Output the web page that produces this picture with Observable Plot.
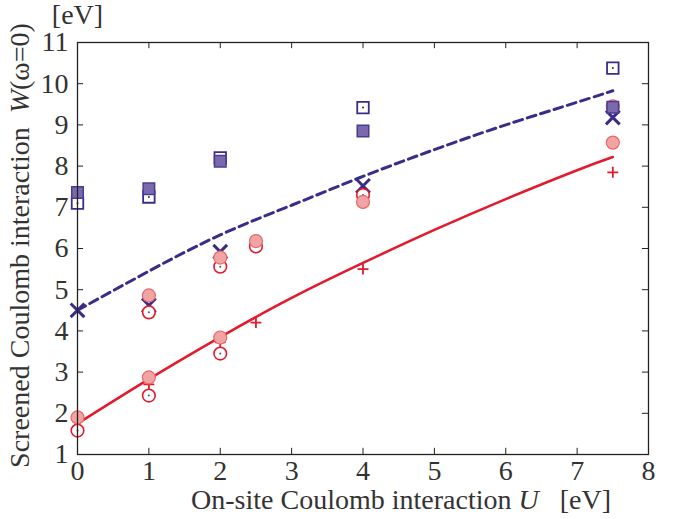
<!DOCTYPE html>
<html>
<head>
<meta charset="utf-8">
<script src="https://cdn.jsdelivr.net/npm/d3@7"></script>
<script src="https://cdn.jsdelivr.net/npm/@observablehq/plot@0.6"></script>
<style>
  html, body { margin: 0; padding: 0; background: #fff; }
</style>
</head>
<body>
<div id="chart"></div>
<script>
// ---- tick labels ----
const xTicks = [0, 1, 2, 3, 4, 5, 6, 7, 8];
const yTicks = [1, 2, 3, 4, 5, 6, 7, 8, 9, 10, 11];

// ---- fitted curves ----
const fitU = [0, 1, 2, 3, 4, 5, 6, 7, 7.5];
const dashedW = [4.5, 5.45, 6.33, 7.05, 7.75, 8.4, 9.0, 9.55, 9.83];
const solidW = [1.75, 2.83, 3.85, 4.8, 5.65, 6.45, 7.2, 7.9, 8.22];

// ---- blue crosses ----
const crossU = [0, 1, 2, 4, 7.5];
const crossW = [4.5, 4.62, 5.92, 7.52, 9.18];

// ---- open squares (with centre dot) ----
const openSqU = [0, 1, 2, 4, 7.5];
const openSqW = [7.1, 7.25, 8.2, 9.42, 10.38];

// ---- filled squares ----
const fillSqU = [0, 1, 2, 4, 7.5];
const fillSqW = [7.36, 7.45, 8.12, 8.85, 9.43];

// ---- filled pink circles ----
const pinkU = [0, 1, 1, 2, 2, 2.5, 4, 7.5, 7.5];
const pinkW = [1.9, 4.86, 2.87, 5.78, 3.84, 6.18, 7.13, 9.45, 8.57];

// ---- open red circles (with centre dot) ----
const openCirU = [0, 1, 1, 2, 2, 2.5, 4];
const openCirW = [1.58, 4.45, 2.43, 5.56, 3.45, 6.05, 7.3];

// ---- red plus ----
const plusU = [1, 2, 2.5, 4, 7.5];
const plusW = [2.7, 3.72, 4.2, 5.5, 7.85];

const zip = (us, ws) => us.map((u, i) => ({u, w: ws[i]}));

const indigo = "#3b2c88";
const purpleFill = "#7a69ad";
const red = "#e3192c";
const pink = "#f2a3a3";
const tlx = 0.085, tly = 0.15;
const FS = 28;

const svg = Plot.plot({
  width: 679,
  height: 519,
  marginLeft: 77,
  marginRight: 31,
  marginTop: 42,
  marginBottom: 65,
  style: {fontFamily: "'Liberation Serif', 'Times New Roman', serif", fontSize: FS + "px", background: "#fff", color: "#333"},
  x: {domain: [0, 8], ticks: xTicks, tickSize: 0, tickPadding: 6, label: null},
  y: {domain: [1, 11], ticks: yTicks, tickSize: 0, tickPadding: 9, label: null},
  marks: [
    // inward ticks
    Plot.ruleX(xTicks, {y1: 1, y2: 1 + tly, stroke: "#222", strokeWidth: 1}),
    Plot.ruleX(xTicks, {y1: 11 - tly, y2: 11, stroke: "#222", strokeWidth: 1}),
    Plot.ruleY(yTicks, {x1: 0, x2: tlx, stroke: "#222", strokeWidth: 1}),
    Plot.ruleY(yTicks, {x1: 8 - tlx, x2: 8, stroke: "#222", strokeWidth: 1}),
    // curves
    Plot.line(zip(fitU, dashedW), {x: "u", y: "w", curve: "natural", stroke: indigo, strokeWidth: 3, strokeDasharray: "9,5"}),
    Plot.line(zip(fitU, solidW), {x: "u", y: "w", curve: "natural", stroke: red, strokeWidth: 2.5}),
    // plus
    Plot.dot(zip(plusU, plusW), {x: "u", y: "w", symbol: "plus", r: 3.6, stroke: red, strokeWidth: 1.8}),
    // crosses
    Plot.dot(zip(crossU, crossW), {x: "u", y: "w", symbol: "times", r: 6.3, stroke: indigo, strokeWidth: 3}),
    // open circles
    Plot.dot(zip(openCirU, openCirW), {x: "u", y: "w", symbol: "circle", r: 6.3, fill: "#fff", stroke: red, strokeWidth: 1.6}),
    Plot.dot(zip(openCirU, openCirW), {x: "u", y: "w", r: 1, fill: "#555"}),
    // pink circles
    Plot.dot(zip(pinkU, pinkW), {x: "u", y: "w", symbol: "circle", r: 6.5, fill: pink, stroke: "#e46a6a", strokeWidth: 1.2}),
    // open squares
    Plot.dot(zip(openSqU, openSqW), {x: "u", y: "w", symbol: "square", r: 6.5, fill: "#fff", stroke: indigo, strokeWidth: 1.8}),
    Plot.dot(zip(openSqU, openSqW), {x: "u", y: "w", r: 1, fill: "#333"}),
    // filled squares
    Plot.dot(zip(fillSqU, fillSqW), {x: "u", y: "w", symbol: "square", r: 6.5, fill: purpleFill, stroke: "#4b3c92", strokeWidth: 1.5}),
    // frame
    Plot.frame({stroke: "#222", strokeWidth: 1.3}),
    // labels
    Plot.text(["[eV]"], {frameAnchor: "top-left", dy: -27, textAnchor: "middle", lineAnchor: "middle", fontSize: FS, fill: "#333"}),
    Plot.text(["YLABEL"], {frameAnchor: "left", dx: -57, dy: -3, rotate: -90, textAnchor: "middle", lineAnchor: "middle", fontSize: FS, fill: "#333"}),
    Plot.text(["XLABEL"], {frameAnchor: "bottom", dx: 38, dy: 46, textAnchor: "middle", lineAnchor: "middle", fontSize: FS, fill: "#333"})
  ]
});

const parts = {
  YLABEL: [["Screened Coulomb interaction  ", false], ["W", true], ["(ω=0)", false]],
  XLABEL: [["On-site Coulomb interaction ", false], ["U", true], ["   [eV]", false]]
};
d3.select(svg).selectAll("text").each(function () {
  const t = this.textContent;
  if (parts[t]) {
    const sel = d3.select(this).text(null).style("white-space", "pre").attr("xml:space", "preserve");
    for (const [s, it] of parts[t]) {
      sel.append("tspan").text(s).attr("font-style", it ? "italic" : null);
    }
  }
});
d3.select(svg).selectAll("text").attr("font-size", FS).attr("fill", "#333");

document.getElementById("chart").appendChild(svg);
</script>
</body>
</html>
